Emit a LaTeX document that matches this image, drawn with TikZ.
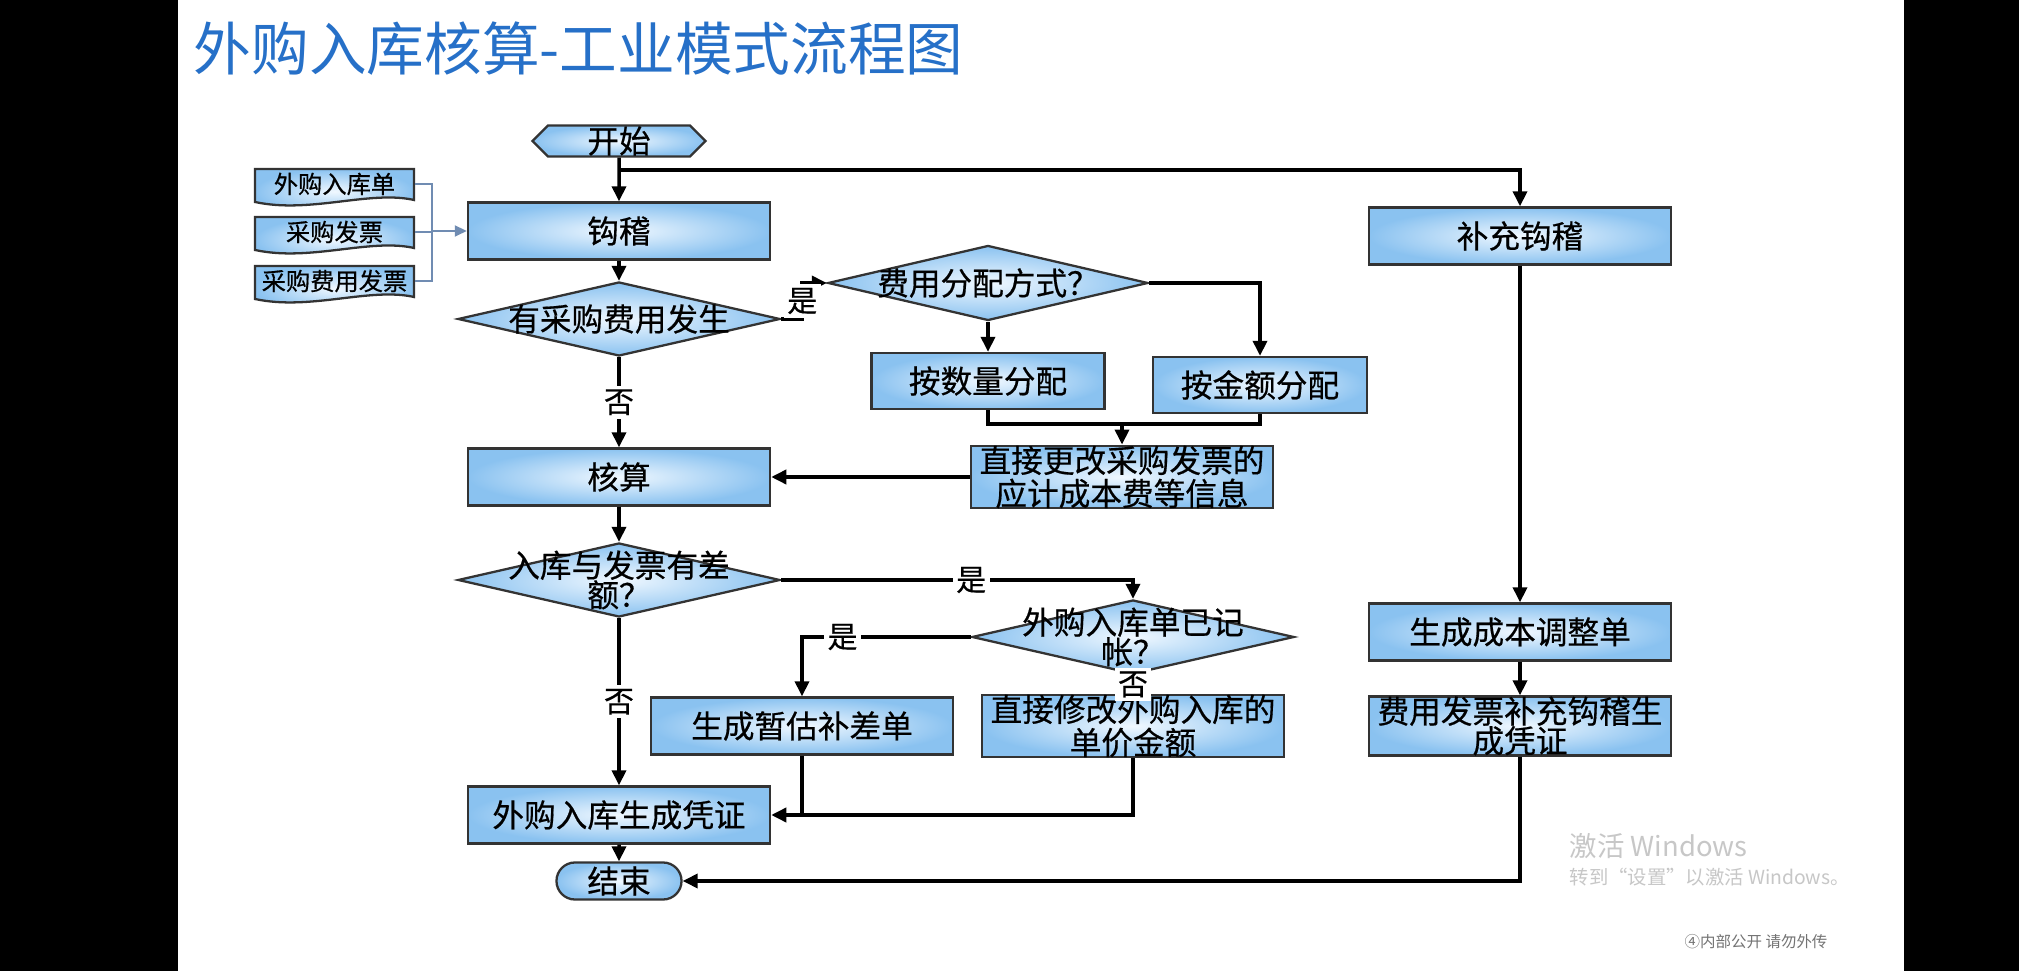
\documentclass[tikz,border=0pt]{standalone}
\usepackage{fontspec}
\setmainfont{Noto Sans CJK SC}
\newfontfamily\flowcjk{Noto Sans CJK SC}[FakeBold=0.5]
\usetikzlibrary{arrows.meta, shapes.geometric, shapes.symbols, shapes.misc}
\definecolor{boxedge}{RGB}{138,194,240}
\definecolor{boxmid}{RGB}{240,248,255}
\definecolor{titleblue}{RGB}{38,112,200}
\definecolor{docwire}{RGB}{112,140,178}
\newcommand\boxfont{\flowcjk\fontsize{9}{8.4}\selectfont}
\newcommand\docfont{\flowcjk\fontsize{6.9}{8}\selectfont}

\begin{document}
\begin{tikzpicture}[x=0.01cm, y=-0.01cm,
    box/.style = {draw=black!80, line width=0.65pt, inner color=boxmid, outer color=boxedge,
                  minimum width=3.02cm, minimum height=0.57cm, inner sep=0pt, align=center, font=\boxfont},
    decision/.style = {diamond, draw=black!80, line width=0.65pt, inner color=boxmid, outer color=boxedge,
                       minimum width=3.22cm, minimum height=0.74cm, inner sep=0pt},
    dectext/.style = {align=center, font=\boxfont, inner sep=0pt},
    terminal/.style = {rounded rectangle, draw=black!80, line width=0.65pt, inner color=boxmid, outer color=boxedge,
                       minimum width=1.25cm, minimum height=0.37cm, inner sep=0pt, font=\boxfont},
    startbox/.style = {signal, signal to=west and east, signal pointer angle=90, draw=black!80, line width=0.65pt,
                       inner color=boxmid, outer color=boxedge, minimum width=1.73cm, minimum height=0.31cm,
                       inner sep=0pt, font=\boxfont},
    doc/.style = {minimum width=1.59cm, minimum height=0.30cm, inner sep=0pt, font=\docfont},
    docshape/.style = {draw=black!80, line width=0.65pt, inner color=boxmid, outer color=boxedge},
    flow/.style = {draw, line width=1pt, -{Triangle[length=1.5mm, width=1.4mm]}},
    link/.style = {draw, line width=1pt},
    docline/.style = {draw=docwire, line width=0.55pt},
    answer/.style = {fill=white, inner sep=1pt, font=\flowcjk\fontsize{8.5}{9}\selectfont}]

  % screen frame
  \fill[black] (0,0) rectangle (2019,971);
  \fill[white] (178,0) rectangle (1904,971);
  \useasboundingbox (0,0) rectangle (2019,971);

  \node[anchor=west, inner sep=0pt, text=titleblue, font=\fontsize{16.4}{18}\selectfont] (title) at (193,49) {外购入库核算-工业模式流程图};

  % main column
  \node[startbox] (start) at (619,141) {开始};
  \node[box] (hook) at (619,231) {钩稽};
  \node[decision, label={[dectext]center:有采购费用发生}] (hasfee) at (619,319) {};
  \node[box] (calc) at (619,477) {核算};
  \node[decision, label={[dectext]center:入库与发票有差\\额？}] (hasdiff) at (619,580) {};
  \node[box] (voucher) at (619,815) {外购入库生成凭证};
  \node[terminal] (stop) at (619,881) {结束};

  % fee branch
  \node[decision, minimum width=3.20cm, minimum height=0.75cm, label={[dectext]center:费用分配方式？}] (feeway) at (988,283) {};
  \node[box, minimum width=2.33cm, minimum height=0.56cm] (byqty) at (988,381) {按数量分配};
  \node[box, minimum width=2.14cm, minimum height=0.56cm] (byamt) at (1260,385) {按金额分配};
  \node[box] (chgfee) at (1122,477) {直接更改采购发票的\\应计成本费等信息};

  % difference branch
  \node[decision, label={[dectext]center:外购入库单已记\\帐？}] (posted) at (1133,637) {};
  \node[box] (provis) at (802,726) {生成暂估补差单};
  \node[box] (chgprice) at (1133,726) {直接修改外购入库的\\单价金额};

  % right column
  \node[box] (suppl) at (1520,236) {补充钩稽};
  \node[box] (adjust) at (1520,632) {生成成本调整单};
  \node[box] (feevoucher) at (1520,726) {费用发票补充钩稽生\\成凭证};

  % source documents
  \foreach \name/\ty/\txt in {docin/169/外购入库单, docinv/217/采购发票, docexp/266/采购费用发票}{
    \shadedraw[docshape] (255,\ty) -- (414,\ty) -- (414,\ty+31)
      .. controls (370,\ty+21) and (310,\ty+45) .. (255,\ty+33) -- cycle;
    \node[doc] (\name) at (334.5,\ty+15) {\txt};
  }

  \coordinate (split) at (619,170);
  \coordinate (bus) at (432,231);
  \coordinate (join1) at (1122,424);
  \coordinate (join2) at (802,815);

  \draw[docline] (docin) -| (bus);
  \draw[docline] (docinv) -| (bus);
  \draw[docline] (docexp) -| (bus);
  \draw[docline, -{Triangle[length=1.2mm, width=1.1mm]}] (bus) -- (hook);

  \draw[flow] (start) -- (hook);
  \draw[flow] (split) -| (suppl);
  \draw[flow] (hook) -- (hasfee);
  \draw[flow] (hasfee.east) -- ++(21,0) |- node[answer, pos=0.25] {是} (feeway.west);
  \draw[flow] (hasfee) -- node[answer] {否} (calc);
  \draw[flow] (feeway) -- (byqty);
  \draw[flow] (feeway.east) -| (byamt);
  \draw[link] (byqty) |- (join1);
  \draw[link] (byamt) |- (join1);
  \draw[flow] (join1) -- (chgfee);
  \draw[flow] (chgfee) -- (calc);
  \draw[flow] (calc) -- (hasdiff);
  \draw[flow] (hasdiff.east) -| node[answer, pos=0.27] {是} (posted);
  \draw[flow] (posted.west) -| node[answer, pos=0.38] {是} (provis);
  \draw[flow] (posted) -- node[answer] {否} (chgprice);
  \draw[flow] (hasdiff) -- node[answer] {否} (voucher);
  \draw[link] (chgprice) |- (join2);
  \draw[flow] (provis) -- (join2) -- (voucher);
  \draw[flow] (voucher) -- (stop);
  \draw[flow] (suppl) -- (adjust);
  \draw[flow] (adjust) -- (feevoucher);
  \draw[flow] (feevoucher) |- (stop);

  % screen overlay texts
  \node[anchor=west, inner sep=0pt, text=black!22, font=\fontsize{7.8}{9}\selectfont] (wmark) at (1569,846) {激活 Windows};
  \node[anchor=west, inner sep=0pt, text=black!22, font=\fontsize{5.5}{6}\selectfont] (wmarkhint) at (1569,877) {转到“设置”以激活 Windows。};
  \node[anchor=west, inner sep=0pt, text=black!55, font=\fontsize{4.4}{5}\selectfont] (secret) at (1684,942) {④内部公开\ 请勿外传};
\end{tikzpicture}
\end{document}
